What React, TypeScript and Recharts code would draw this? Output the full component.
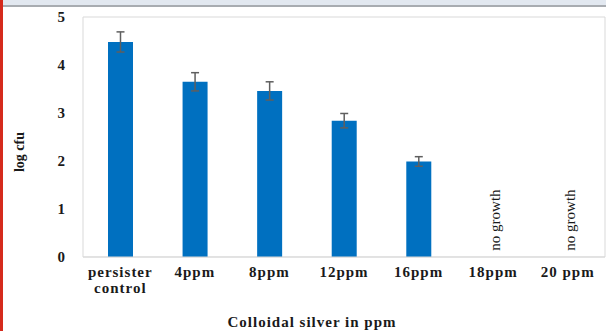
import {
  BarChart,
  Bar,
  XAxis,
  YAxis,
  ErrorBar,
  LabelList,
  Label,
  ReferenceArea,
} from "recharts";

const categories = [
  "persister\ncontrol",
  "4ppm",
  "8ppm",
  "12ppm",
  "16ppm",
  "18ppm",
  "20 ppm",
];
const logCfu = [4.48, 3.65, 3.46, 2.84, 1.99, 0, 0];
const errors = [0.21, 0.19, 0.19, 0.15, 0.1, null, null];
const notes = ["", "", "", "", "", "no growth", "no growth"];
const yTicks = [0, 1, 2, 3, 4, 5];

// invisible stacked span that carries the "no growth" note
const NOTE_SPAN = 1.54;

const data = categories.map((name, i) => ({
  name,
  value: logCfu[i],
  err: errors[i],
  note: notes[i],
  noteSpan: notes[i] ? NOTE_SPAN : 0,
}));

const SERIF = "'Liberation Serif', 'Times New Roman', serif";

function CategoryTick(props: any) {
  const { x, y, payload } = props;
  const lines = String(payload.value).split("\n");
  return (
    <text
      x={x}
      y={y}
      textAnchor="middle"
      fontFamily={SERIF}
      fontWeight="bold"
      fontSize={15}
      letterSpacing={1}
      fill="#1a1a1a"
    >
      {lines.map((l, i) => (
        <tspan key={i} x={x} dy={i === 0 ? 12 : 16}>
          {l}
        </tspan>
      ))}
    </text>
  );
}

function NoteLabel(props: any) {
  const { x, y, width, height, value } = props;
  if (!value) return null;
  const cx = x + width / 2 + 2;
  const cy = y + height / 2;
  return (
    <text
      x={cx}
      y={cy}
      textAnchor="middle"
      dominantBaseline="central"
      transform={`rotate(-90 ${cx} ${cy})`}
      fontFamily={SERIF}
      fontSize={15}
      fill="#1a1a1a"
    >
      {value}
    </text>
  );
}

function XTitle(props: any) {
  const { viewBox } = props;
  return (
    <text
      x={312}
      y={viewBox.y + viewBox.height - 4}
      textAnchor="middle"
      fontFamily={SERIF}
      fontWeight="bold"
      fontSize={15}
      letterSpacing={1}
      fill="#1a1a1a"
    >
      Colloidal silver in ppm
    </text>
  );
}

function YTitle() {
  return (
    <text
      x={19}
      y={152}
      textAnchor="middle"
      dominantBaseline="central"
      transform="rotate(-90 19 152)"
      fontFamily={SERIF}
      fontWeight="bold"
      fontSize={14}
      fill="#1a1a1a"
    >
      log cfu
    </text>
  );
}

export default function App() {
  return (
    <div
      style={{
        position: "absolute",
        left: 0,
        top: 0,
        width: 606,
        height: 331,
        background: "#ffffff",
        overflow: "hidden",
      }}
    >
      <BarChart
        width={606}
        height={331}
        data={data}
        margin={{ top: 17, right: 1, bottom: 0, left: 0 }}
      >
        <XAxis
          dataKey="name"
          height={74}
          interval={0}
          axisLine={{ stroke: "#d9d9d9" }}
          tickLine={false}
          tick={<CategoryTick />}
        >
          <Label content={<XTitle />} />
        </XAxis>
        <YAxis
          width={83}
          domain={[0, 5]}
          ticks={yTicks}
          allowDataOverflow
          axisLine={false}
          tickLine={false}
          tickMargin={12}
          tick={{
            fontFamily: SERIF,
            fontWeight: "bold",
            fontSize: 15,
            fill: "#1a1a1a",
          }}
        >
          <Label content={<YTitle />} />
        </YAxis>
        <ReferenceArea
          y1={0}
          y2={5}
          fill="none"
          fillOpacity={0}
          stroke="#d9d9d9"
          strokeWidth={1}
        />
        <Bar
          dataKey="value"
          stackId="a"
          fill="#0070c0"
          barSize={25}
          isAnimationActive={false}
        >
          <ErrorBar
            dataKey="err"
            width={4}
            stroke="#5f5f5f"
            strokeWidth={1.5}
          />
        </Bar>
        <Bar
          dataKey="noteSpan"
          stackId="a"
          fill="none"
          fillOpacity={0}
          barSize={25}
          isAnimationActive={false}
        >
          <LabelList dataKey="note" content={<NoteLabel />} />
        </Bar>
      </BarChart>
      <div
        style={{
          position: "absolute",
          left: 0,
          top: 0,
          width: 606,
          height: 5,
          background: "#e2e8f0",
        }}
      />
      <div
        style={{
          position: "absolute",
          left: 0,
          top: 5,
          width: 606,
          height: 2,
          background: "#a8acb1",
        }}
      />
      <div
        style={{
          position: "absolute",
          left: 0,
          top: 0,
          width: 3,
          height: 331,
          background: "#d52a1c",
        }}
      />
    </div>
  );
}
